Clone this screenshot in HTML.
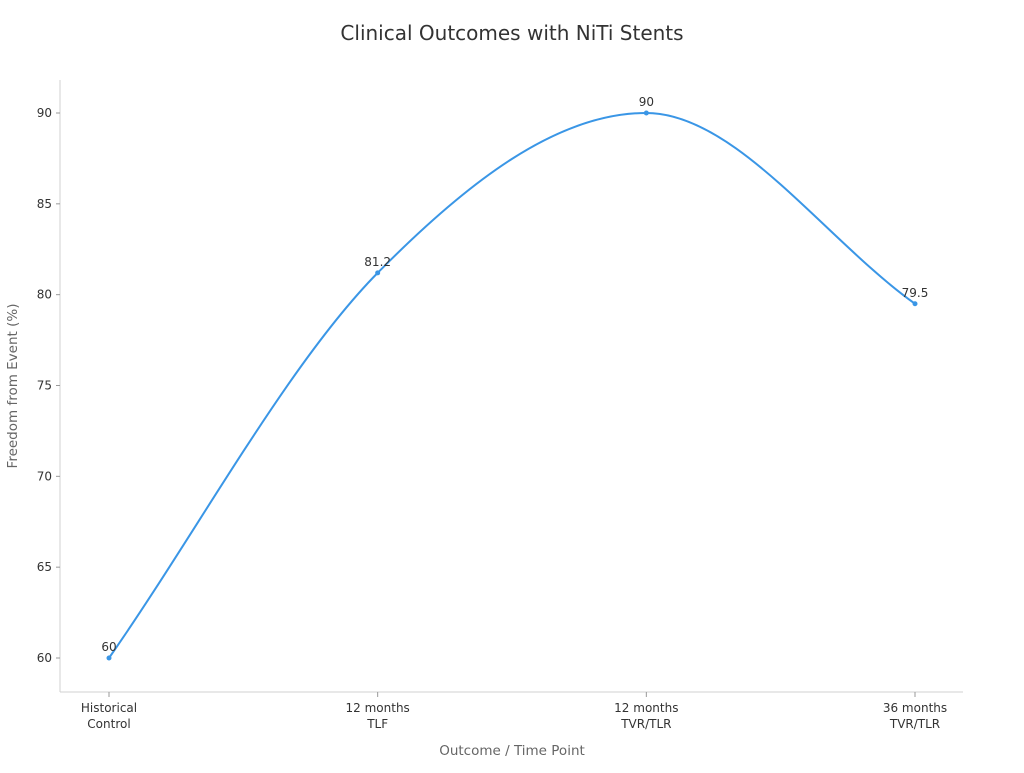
<!DOCTYPE html>
<html><head><meta charset="utf-8"><style>
body{margin:0;background:#fff;}
svg{font-family:"DejaVu Sans","Liberation Sans",sans-serif;}
</style></head><body>
<svg id="chart" width="1024" height="768">
<text x="512" y="40" text-anchor="middle" font-size="20" fill="#333">Clinical Outcomes with NiTi Stents</text>
<line x1="60" y1="80" x2="60" y2="692" stroke="#d0d0d0"/>
<line x1="60" y1="692" x2="963" y2="692" stroke="#d0d0d0"/>
<text transform="translate(17,386) rotate(-90)" text-anchor="middle" font-size="13.5" fill="#666">Freedom from Event (%)</text>
<text x="512" y="755" text-anchor="middle" font-size="13.5" fill="#666">Outcome / Time Point</text>
<g id="marks"></g>
</svg>
<script>
const categories=[["Historical","Control"],["12 months","TLF"],["12 months","TVR/TLR"],["36 months","TVR/TLR"]];
const values=[60,81.2,90,79.5];
const labels=["60","81.2","90","79.5"];
const yTicks=[60,65,70,75,80,85,90];
const NS="http://www.w3.org/2000/svg";
const g=document.getElementById('marks');
const xS=i=>109+i*(915-109)/(categories.length-1);
const yS=v=>658-(v-60)*(658-113)/30;
function el(t,a){const e=document.createElementNS(NS,t);for(const k in a)e.setAttribute(k,a[k]);g.appendChild(e);return e;}
yTicks.forEach(t=>{
 const l=el('line',{x1:56,x2:60,y1:yS(t),y2:yS(t),stroke:'#999'});
 
 
 const tx=el('text',{x:52,y:yS(t)+4,'text-anchor':'end','font-size':12,fill:'#333'});tx.textContent=t;
 
 
});
categories.forEach((c,i)=>{
 const l=el('line',{x1:xS(i),x2:xS(i),y1:692,y2:697,stroke:'#999'});
 
 
 c.forEach((s,j)=>{const tx=el('text',{x:xS(i),y:712+j*16,'text-anchor':'middle','font-size':12,fill:'#333'});tx.textContent=s;
 
 });
});
const P=values.map((v,i)=>[xS(i),yS(v)]);const n=P.length;
const d=[],m=[];
for(let i=0;i<n-1;i++)d.push((P[i+1][1]-P[i][1])/(P[i+1][0]-P[i][0]));
m[0]=d[0];m[n-1]=d[n-2];
for(let i=1;i<n-1;i++)m[i]=(d[i-1]*d[i]<=0)?0:(d[i-1]+d[i])/2;
let path=`M${P[0][0]},${P[0][1]}`;
for(let i=0;i<n-1;i++){const h=(P[i+1][0]-P[i][0])/3;
path+=` C${P[i][0]+h},${P[i][1]+m[i]*h} ${P[i+1][0]-h},${P[i+1][1]-m[i+1]*h} ${P[i+1][0]},${P[i+1][1]}`;}
const ln=el('path',{d:path,fill:'none',stroke:'#3a96e6','stroke-width':2});


values.forEach((v,i)=>{
 const c=el('circle',{cx:xS(i),cy:yS(v),r:2.5,fill:'#3a96e6'});
 
 
 const tx=el('text',{x:xS(i),y:yS(v)-7,'text-anchor':'middle','font-size':12,fill:'#333'});tx.textContent=labels[i];
 
 
});
</script>
</body></html>
